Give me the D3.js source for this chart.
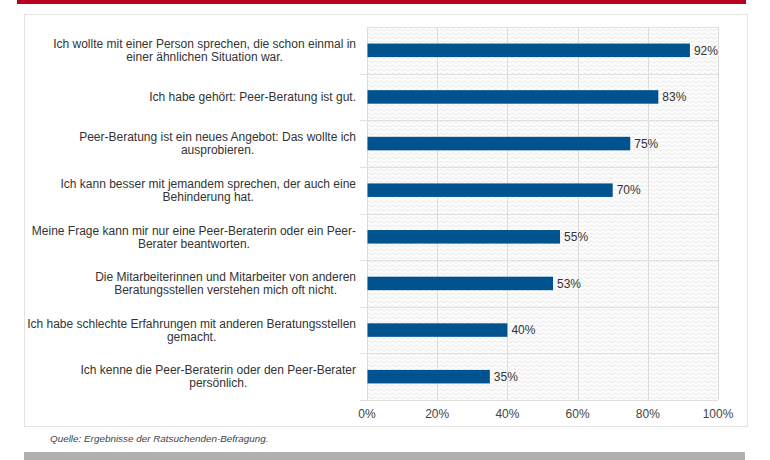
<!DOCTYPE html>
<html><head><meta charset="utf-8">
<script src="https://cdn.jsdelivr.net/npm/d3@7"></script>
<style>body{margin:0;background:#fff}svg{display:block}</style>
</head><body>
<svg id="c" width="770" height="460"></svg>
<script>
const categories = [
  ["Ich wollte mit einer Person sprechen, die schon einmal in", "einer ähnlichen Situation war."],
  ["Ich habe gehört: Peer-Beratung ist gut."],
  ["Peer-Beratung ist ein neues Angebot: Das wollte ich", "ausprobieren."],
  ["Ich kann besser mit jemandem sprechen, der auch eine", "Behinderung hat."],
  ["Meine Frage kann mir nur eine Peer-Beraterin oder ein Peer-", "Berater beantworten."],
  ["Die Mitarbeiterinnen und Mitarbeiter von anderen", "Beratungsstellen verstehen mich oft nicht."],
  ["Ich habe schlechte Erfahrungen mit anderen Beratungsstellen", "gemacht."],
  ["Ich kenne die Peer-Beraterin oder den Peer-Berater", "persönlich."]
];
const values = [92, 83, 75, 70, 55, 53, 40, 35];
const xTicks = [0, 20, 40, 60, 80, 100];
const source = "Quelle: Ergebnisse der Ratsuchenden-Befragung.";

const svg = d3.select("#c");
const font = "'Liberation Sans', Arial, sans-serif";
const L = 367, R = 718, T = 27, B = 400;

// decorations
svg.append("rect").attr("x", 17).attr("y", 0).attr("width", 729).attr("height", 4).attr("fill", "#b8001e");
svg.append("rect").attr("x", 24.5).attr("y", 14.5).attr("width", 723).attr("height", 412).attr("fill", "#fff").attr("stroke", "#e3e3e3");
svg.append("rect").attr("x", 24).attr("y", 452).attr("width", 721).attr("height", 8).attr("fill", "#b0b0b0");

// pattern
const defs = svg.append("defs");
const pat = defs.append("pattern").attr("id", "zz").attr("patternUnits", "userSpaceOnUse").attr("width", 6).attr("height", 4);
pat.append("rect").attr("width", 6).attr("height", 4).attr("fill", "#fdfdfd");
pat.append("path").attr("d", "M0,3 L3,1 L6,3").attr("fill", "none").attr("stroke", "#e4e4e4").attr("stroke-width", 0.8);

const x = d3.scaleLinear().domain([0, 100]).range([L, R]);
const y = d3.scaleBand().domain(d3.range(categories.length)).range([T, B]).paddingInner(0.71).paddingOuter(0.355);
const yb = d3.scaleBand().domain(d3.range(categories.length)).range([T, B]);

svg.append("rect").attr("x", L).attr("y", T).attr("width", R - L).attr("height", B - T).attr("fill", "url(#zz)");

// vertical grid
svg.append("g").selectAll("line").data(xTicks).join("line")
  .attr("x1", d => Math.round(x(d)) + 0.5).attr("x2", d => Math.round(x(d)) + 0.5)
  .attr("y1", T).attr("y2", B).attr("stroke", "#dcdcdc");
// horizontal separators + left ticks
const seps = d3.range(categories.length + 1).map(i => i === categories.length ? B : yb(i));
svg.append("g").selectAll("line").data(seps).join("line")
  .attr("x1", (d, i) => (i === 0 ? L : 360)).attr("x2", R)
  .attr("y1", d => Math.round(d) + 0.5).attr("y2", d => Math.round(d) + 0.5)
  .attr("stroke", "#e0e0e0");

// bars
svg.append("g").selectAll("rect").data(values).join("rect")
  .attr("x", L + 0.5).attr("y", (d, i) => y(i)).attr("width", d => x(d) - L - 0.5).attr("height", y.bandwidth())
  .attr("fill", "#00538f");

// value labels
svg.append("g").selectAll("text").data(values).join("text")
  .attr("x", d => x(d) + 4).attr("y", (d, i) => y(i) + y.bandwidth() / 2).attr("dy", "0.35em")
  .attr("font-family", font).attr("font-size", 12).attr("fill", "#333")
  .text(d => d + "%");

// x axis labels
svg.append("g").selectAll("text").data(xTicks).join("text")
  .attr("x", d => x(d)).attr("y", 418).attr("text-anchor", "middle")
  .attr("font-family", font).attr("font-size", 12).attr("fill", "#444")
  .text(d => d + "%");

// category labels
const labelRight = 356;
categories.forEach((lines, i) => {
  const cy = yb(i) + yb.bandwidth() / 2;
  const lh = 13;
  const g = svg.append("g");
  const ts = lines.map((ln, j) => g.append("text")
    .attr("y", cy + (j - (lines.length - 1) / 2) * lh).attr("dy", "0.35em")
    .attr("font-family", font).attr("font-size", 12).attr("fill", "#333")
    .attr("text-anchor", "middle").text(ln));
  const w = d3.max(ts, t => t.node().getComputedTextLength());
  ts.forEach(t => t.attr("x", labelRight - w / 2));
});

// source
svg.append("text").attr("x", 50).attr("y", 442)
  .attr("font-family", font).attr("font-size", 9.9).attr("font-style", "italic").attr("fill", "#444")
  .text(source);
</script>
</body></html>
